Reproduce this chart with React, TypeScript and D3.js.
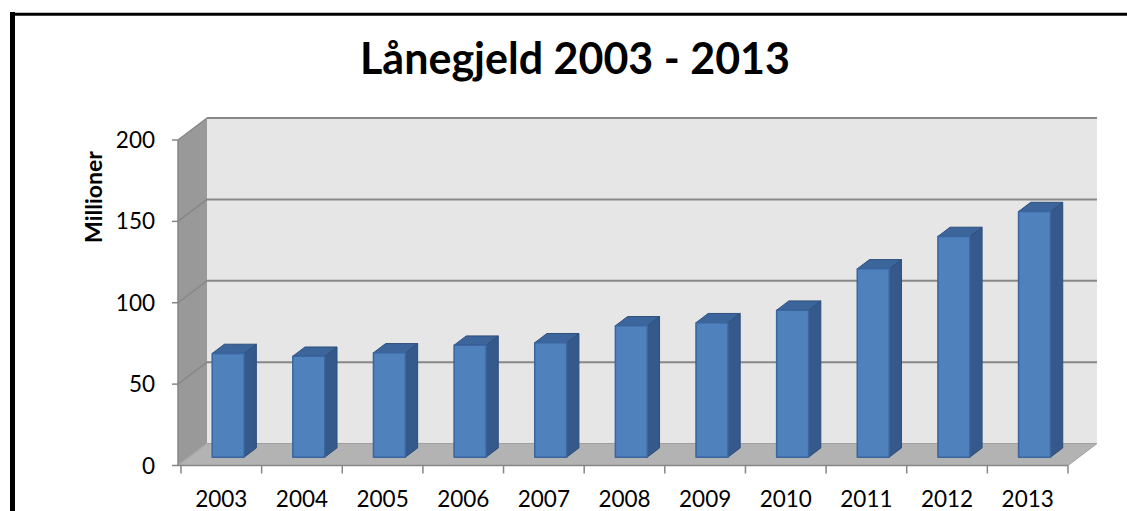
import React from 'react';
import * as d3 from 'd3';

const years = ['2003', '2004', '2005', '2006', '2007', '2008', '2009', '2010', '2011', '2012', '2013'];
const values = [63.7, 62.0, 64.1, 68.8, 70.3, 80.7, 82.6, 90.3, 115.7, 135.6, 150.9];
const yTicks = [0, 50, 100, 150, 200];

const W = 1127;
const H = 511;
// depth of the 3D box (screen offset from front plane to back wall)
const DX = 29;
const DY = 22;
// bar sits between these depth fractions
const D1 = 0.38;
const D2 = 0.8;

const FONT = "Lato, 'Open Sans', sans-serif";

const App = () => {
    const x = d3.scaleBand<string>().domain(years).range([181, 1068]).paddingInner(0);
    const y = d3.scaleLinear().domain([0, 200]).range([465.5, 140]);
    const bw = x.bandwidth();

    const P = (px: number, v: number, d: number): [number, number] => [px + d * DX, y(v) - d * DY];
    const poly = (pts: [number, number][]) => pts.map(p => p.join(',')).join(' ');

    const x0 = x.range()[0] - 3;
    const x1 = x.range()[1];
    const vMax = 200;

    return (
        <div style={{ position: 'fixed', left: 0, top: 0 }}>
            <svg width={W} height={H} style={{ display: 'block', background: '#fff' }}>
                {/* outer frame */}
                <line x1={12.5} y1={12} x2={12.5} y2={H + 5} stroke="#000" strokeWidth={5} />
                <line x1={10} y1={14.2} x2={W + 5} y2={14.2} stroke="#000" strokeWidth={3} />

                <text x={575} y={74} textAnchor="middle" fontFamily={FONT} fontWeight={700} fontSize={43} fill="#000">
                    Lånegjeld 2003 - 2013
                </text>

                {/* back wall */}
                <polygon points={poly([P(x0, 0, 1), P(x1, 0, 1), P(x1, vMax, 1), P(x0, vMax, 1)])} fill="#e6e6e6" />
                {/* side wall */}
                <polygon points={poly([P(x0, 0, 0), P(x0, 0, 1), P(x0, vMax, 1), P(x0, vMax, 0)])} fill="#999999" />
                {/* floor */}
                <polygon points={poly([P(x0, 0, 0), P(x1, 0, 0), P(x1, 0, 1), P(x0, 0, 1)])} fill="#b3b3b3" />

                {/* gridlines */}
                {yTicks.filter(t => t > 0).map(t => (
                    <g key={t}>
                        <line x1={P(x0, t, 1)[0]} y1={P(x0, t, 1)[1]} x2={P(x1, t, 1)[0]} y2={P(x1, t, 1)[1]} stroke="#878787" strokeWidth={2} />
                        <line x1={P(x0, t, 0)[0]} y1={P(x0, t, 0)[1]} x2={P(x0, t, 1)[0]} y2={P(x0, t, 1)[1]} stroke="#878787" strokeWidth={1.5} />
                    </g>
                ))}
                <line x1={P(x0, 0, 0)[0]} y1={P(x0, 0, 0)[1]} x2={P(x0, 0, 1)[0]} y2={P(x0, 0, 1)[1]} stroke="#a8a8a8" strokeWidth={1.5} />
                <line x1={P(x0, 0, 1)[0]} y1={P(x0, 0, 1)[1]} x2={P(x1, 0, 1)[0]} y2={P(x1, 0, 1)[1]} stroke="#a0a0a0" strokeWidth={1} />
                <line x1={P(x1, 0, 0)[0]} y1={P(x1, 0, 0)[1]} x2={P(x1, 0, 1)[0]} y2={P(x1, 0, 1)[1]} stroke="#a0a0a0" strokeWidth={1} />

                {/* bars */}
                {years.map((yr, i) => {
                    const v = values[i];
                    const l = (x(yr) as number) + bw * 0.25;
                    const r = l + bw * 0.397;
                    const front = poly([P(l, 0, D1), P(r, 0, D1), P(r, v, D1), P(l, v, D1)]);
                    const side = poly([P(r, 0, D1), P(r, 0, D2), P(r, v, D2), P(r, v, D1)]);
                    const top = poly([P(l, v, D1), P(r, v, D1), P(r, v, D2), P(l, v, D2)]);
                    return (
                        <g key={yr}>
                            <polygon points={side} fill="#35598a" stroke="#2e4f7c" strokeWidth={1} strokeLinejoin="round" />
                            <polygon points={top} fill="#3c659b" stroke="#2e4f7c" strokeWidth={1} strokeLinejoin="round" />
                            <polygon points={front} fill="#4f81bd" stroke="#3a659e" strokeWidth={1.5} strokeLinejoin="round" />
                        </g>
                    );
                })}

                {/* y axis */}
                <line x1={x0} y1={y(0)} x2={x0} y2={y(vMax)} stroke="#868686" strokeWidth={1.5} />
                {yTicks.map(t => (
                    <g key={t}>
                        <line x1={x0 - 6} y1={y(t)} x2={x0} y2={y(t)} stroke="#868686" strokeWidth={1.5} />
                        <text x={155} y={y(t)} dy="0.36em" textAnchor="end" fontFamily={FONT} fontSize={22.5} fill="#000">
                            {t}
                        </text>
                    </g>
                ))}
                <text transform={`translate(102,197) rotate(-90)`} textAnchor="middle" fontFamily={FONT} fontWeight={700} fontSize={23} fill="#000">
                    Millioner
                </text>

                {/* x axis */}
                <line x1={x0} y1={y(0)} x2={x1} y2={y(0)} stroke="#868686" strokeWidth={1.5} />
                {[...years.map(yr => x(yr) as number), x1].map((tx, i) => (
                    <line key={i} x1={tx} y1={y(0)} x2={tx} y2={y(0) + 8} stroke="#868686" strokeWidth={1.5} />
                ))}
                {years.map(yr => (
                    <text key={yr} x={(x(yr) as number) + bw / 2} y={507} textAnchor="middle" fontFamily={FONT} fontSize={22.5} fill="#000">
                        {yr}
                    </text>
                ))}
            </svg>
        </div>
    );
};

export default App;
